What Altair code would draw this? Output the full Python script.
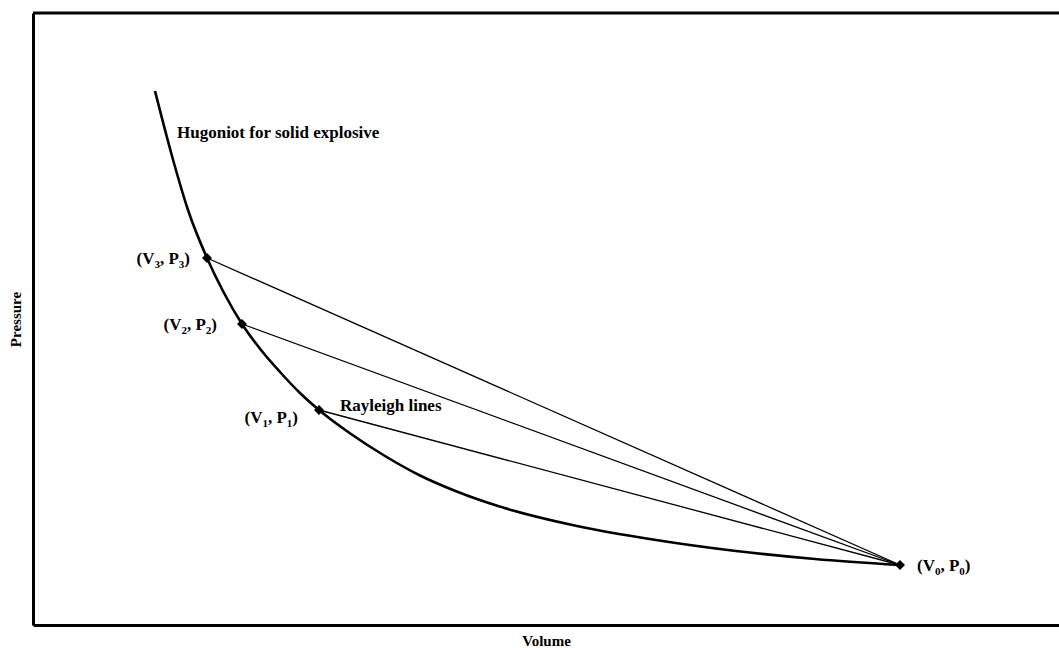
import altair as alt
import pandas as pd

# Hugoniot curve for the solid explosive (arbitrary volume / pressure units)
hug_v = [12.2, 13.9, 15.5, 17.4, 19.1, 20.9, 22.8, 24.7, 26.7, 28.6, 31.8, 35.2,
         38.6, 42.5, 46.5, 54.4, 62.3, 70.3, 78.2, 86.7]
hug_p = [53.4, 46.9, 41.5, 36.7, 33.2, 30.1, 27.5, 25.3, 23.2, 21.5, 19.1, 16.9,
         15.0, 13.3, 11.9, 9.9, 8.5, 7.4, 6.6, 6.0]

# Named states on the Hugoniot: index 0 is the initial state
state_idx = ["0", "1", "2", "3"]
state_v = [86.7, 28.6, 20.9, 17.4]
state_p = [6.0, 21.5, 30.1, 36.7]

# Free annotations (left edge, baseline)
note_text = ["Hugoniot for solid explosive", "Rayleigh lines"]
note_v = [14.4, 30.7]
note_p = [48.7, 21.4]

X_DOMAIN = [0, 102.6]
Y_DOMAIN = [0, 61.2]
FONT = "Liberation Serif"
FS = 17       # main label size
FS_SUB = 11   # subscript size

hug = pd.DataFrame({"V": hug_v, "P": hug_p, "order": range(len(hug_v))})
states = pd.DataFrame({"idx": state_idx, "V": state_v, "P": state_p})

# Rayleigh lines: each state joined to the initial state (V0, P0)
ray_rows = []
for i in range(1, len(state_v)):
    ray_rows.append({"line": i, "V": state_v[i], "P": state_p[i], "k": 0})
    ray_rows.append({"line": i, "V": state_v[0], "P": state_p[0], "k": 1})
rays = pd.DataFrame(ray_rows)

xs = alt.Scale(domain=X_DOMAIN, nice=False, zero=False)
ys = alt.Scale(domain=Y_DOMAIN, nice=False, zero=False)
XQ = alt.X("V:Q", scale=xs)
YQ = alt.Y("P:Q", scale=ys)

x_enc = alt.X("V:Q", scale=xs, title="Volume",
              axis=alt.Axis(labels=False, ticks=False, grid=False, domainWidth=3,
                            domainColor="black", titlePadding=8))
y_enc = alt.Y("P:Q", scale=ys, title="Pressure",
              axis=alt.Axis(labels=False, ticks=False, grid=False, domainWidth=3,
                            domainColor="black", titlePadding=10))

curve = alt.Chart(hug).mark_line(color="black", strokeWidth=2.6, interpolate="monotone").encode(
    x=x_enc, y=y_enc, order="order:O")

ray_lines = alt.Chart(rays).mark_line(color="black", strokeWidth=1.3).encode(
    x=XQ, y=YQ, detail="line:N", order="k:O")

points = alt.Chart(states).mark_point(shape="diamond", filled=True, color="black",
                                      size=100, opacity=1).encode(x=XQ, y=YQ)

# "(V_i, P_i)" labels assembled from normal and subscript pieces.
# Advance widths of Times-metric bold glyphs, in em.
EM = {"(": 0.333, ")": 0.333, "V": 0.722, "P": 0.611, ",": 0.25, " ": 0.25, "d": 0.5}


def text_width(s, size):
    return sum(EM.get(c, 0.5) for c in s) * size


def label_layers(row, x_off, y_off, anchor):
    """x_off: offset of the label's left (anchor='left') or right edge from the point."""
    d = row["idx"]
    pieces = [("(V", False), (d, True), (", P", False), (d, True), (")", False)]
    widths = [text_width(t, FS_SUB if sub else FS) for t, sub in pieces]
    total = sum(widths)
    start = x_off if anchor == "left" else x_off - total
    layers = []
    src = pd.DataFrame([row])
    cx = start
    for (t, sub), w in zip(pieces, widths):
        layers.append(
            alt.Chart(src).mark_text(
                text=t, font=FONT, fontWeight="bold", fontSize=FS_SUB if sub else FS,
                color="black", align="left", baseline="alphabetic",
                dx=cx, dy=y_off + (4 if sub else 0)).encode(x=XQ, y=YQ))
        cx += w
    return layers


# offsets (px) of each label relative to its point, and which edge is anchored
label_place = {"0": (17, 6, "left"), "1": (-21, 13, "right"),
               "2": (-25, 6, "right"), "3": (-17, 6, "right")}

labels = []
for _, r in states.iterrows():
    xo, yo, anc = label_place[r["idx"]]
    labels += label_layers(r, xo, yo, anc)

notes = alt.Chart(pd.DataFrame({"t": note_text, "V": note_v, "P": note_p})).mark_text(
    font=FONT, fontWeight="bold", fontSize=FS, color="black", align="left",
    baseline="alphabetic").encode(x=XQ, y=YQ, text="t:N")

# Top edge of the frame
top = alt.Chart(pd.DataFrame({"a": [0]})).mark_rule(color="black", strokeWidth=3).encode(
    x=alt.value(0), x2=alt.value(1030), y=alt.value(0))

chart = alt.layer(curve, ray_lines, points, *labels, notes, top).properties(
    width=1026, height=612,
    autosize=alt.AutoSizeParams(type="none"),
    padding={"left": 33, "top": 13, "right": 0, "bottom": 23},
).configure_view(stroke=None).configure_axis(
    titleFont=FONT, titleFontWeight="bold", titleFontSize=15, titleColor="black")

chart.save("out.html", embed_options={"renderer": "svg", "actions": False})
